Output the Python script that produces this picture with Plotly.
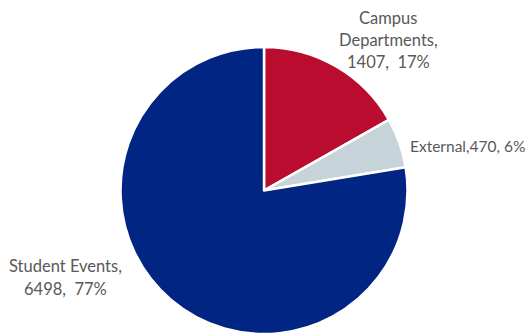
import plotly.graph_objects as go

# Attendance by source
categories = ["Campus Departments", "External", "Student Events"]
counts = [1407, 470, 6498]
shares = [17, 6, 77]  # percent of total, as reported
colors = ["#BA0C2F", "#C6D3D9", "#002582"]

W, H = 530, 335
FONT = dict(family="Lato", size=16.5, color="#595959")
FONT_SIDE = dict(family="Lato", size=15.5, color="#595959")
LINE_GAP = 22.5  # px between wrapped label lines

# label lines for each slice, wrapped as in the report layout
label_lines = [
    ["Campus", "Departments,", f"{counts[0]},  {shares[0]}%"],
    [f"{categories[1]},{counts[1]}, {shares[1]}%"],
    [f"{categories[2]},", f"{counts[2]},  {shares[2]}%"],
]
# anchor (x px, first-line y px, horizontal alignment, font) for each label block
label_anchor = [
    (388, 17.5, "center", FONT),
    (527, 146, "right", FONT_SIDE),
    (65, 266, "center", FONT),
]

fig = go.Figure(
    go.Pie(
        labels=categories,
        values=counts,
        sort=False,
        direction="clockwise",
        rotation=0,
        marker=dict(colors=colors, line=dict(color="white", width=2.5)),
        textinfo="none",
        domain=dict(x=[0.2274, 0.7689], y=[0.003, 0.8597]),
        showlegend=False,
        hoverinfo="label+value+percent",
    )
)

for lines, (ax, ay, align, font) in zip(label_lines, label_anchor):
    for i, line in enumerate(lines):
        fig.add_annotation(
            x=ax / W,
            y=(H - (ay + i * LINE_GAP)) / H,
            xref="paper",
            yref="paper",
            text=line,
            showarrow=False,
            xanchor=align,
            yanchor="middle",
            font=font,
        )

fig.update_layout(
    width=W,
    height=H,
    margin=dict(l=0, r=0, t=0, b=0),
    paper_bgcolor="white",
    plot_bgcolor="white",
)

fig.write_html("out.html")
